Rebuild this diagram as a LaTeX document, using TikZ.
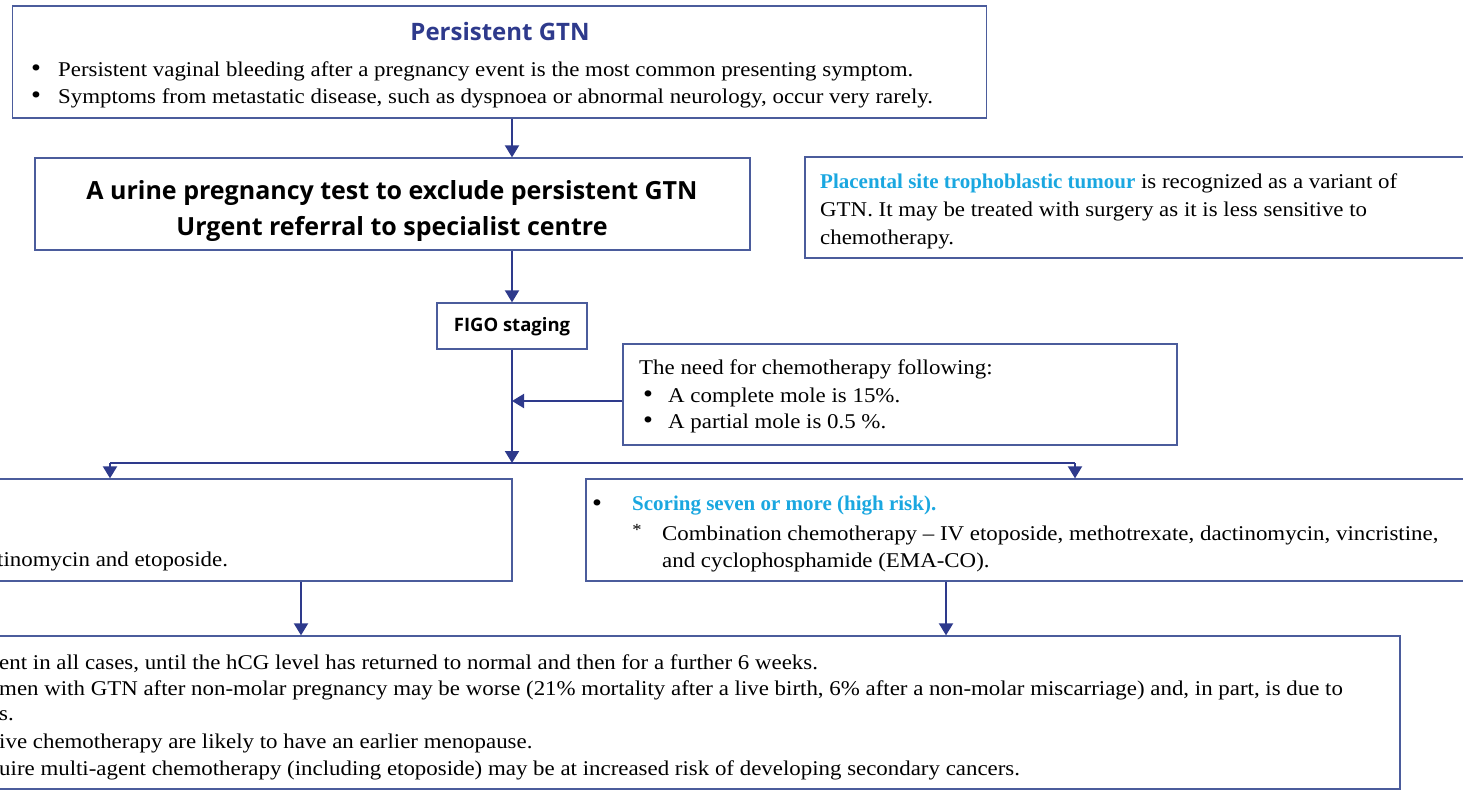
\documentclass[tikz,border=0pt]{standalone}
\usepackage{fontspec}
\setmainfont[FakeStretch=1.09]{Liberation Serif}
\newfontfamily\hlfont{Liberation Serif}
\newfontfamily\hsans{Open Sans}
\usetikzlibrary{arrows.meta}
\definecolor{dblue}{HTML}{2E3A8C}
\definecolor{bblue}{HTML}{4B5C9C}
\definecolor{cyanT}{HTML}{1AA7E0}
\begin{document}
\begin{tikzpicture}[x=1pt,y=-1pt,
  box/.style={draw=bblue, line width=1.3pt, rectangle, inner sep=0pt},
  conn/.style={draw=dblue, line width=2pt},
  arr/.style={conn, -{Triangle[width=14pt,length=12pt]}},
  body/.style={font=\fontsize{21}{25}\selectfont, anchor=west, inner sep=0pt},
  bul/.style={font=\fontsize{26}{28}\selectfont, inner sep=0pt},
  head/.style={font=\hsans\bfseries\fontsize{24}{28}\selectfont, inner sep=0pt},
  hl/.style={font=\hlfont\bfseries\fontsize{21}{25}\selectfont, text=cyanT, inner sep=0pt}]
\useasboundingbox (0,0) rectangle (1463,792);
\clip (0,0) rectangle (1463,792);
% boxes
\node[box, minimum width=974pt, minimum height=112pt] (top) at (499.5,62) {};
\node[box, minimum width=715pt, minimum height=92pt] (urine) at (392.5,204) {};
\node[box, minimum width=680pt, minimum height=101pt] (pstt) at (1145,207.5) {};
\node[box, minimum width=150pt, minimum height=46pt] (figo) at (512,326) {};
\node[box, minimum width=554pt, minimum height=101pt] (note) at (900,394.5) {};
\node[box, minimum width=712pt, minimum height=102pt] (low) at (156,530) {};
\node[box, minimum width=900pt, minimum height=102pt] (high) at (1036,530) {};
\node[box, minimum width=1600pt, minimum height=153pt] (fu) at (600,712.5) {};
% top text
\node[head, text=dblue] (t1) at (500,32) {Persistent GTN};
\node[bul] (t2b) at (36,71) {•};
\node[body] (t2) at (58,71) {Persistent vaginal bleeding after a pregnancy event is the most common presenting symptom.};
\node[bul] (t3b) at (36,98) {•};
\node[body] (t3) at (58,98) {Symptoms from metastatic disease, such as dyspnoea or abnormal neurology, occur very rarely.};
% urine text
\node[head, align=center, font=\hsans\bfseries\fontsize{25}{36}\selectfont] (u1) at (392,211) {A urine pregnancy test to exclude persistent GTN\\Urgent referral to specialist centre};
% pstt
\node[body] (p1) at (820,183) {{\hlfont\bfseries\color{cyanT}Placental site trophoblastic tumour} is recognized as a variant of};
\node[body] (p2) at (820,211) {GTN. It may be treated with surgery as it is less sensitive to};
\node[body] (p3) at (820,239) {chemotherapy.};
% figo
\node[head, font=\hsans\bfseries\fontsize{18.5}{20}\selectfont] (f1) at (512,327) {FIGO staging};
% note
\node[body] (n1) at (639,369) {The need for chemotherapy following:};
\node[bul] (n2b) at (648,397) {•};
\node[body] (n2) at (668,397) {A complete mole is 15\%.};
\node[bul] (n3b) at (648,423) {•};
\node[body] (n3) at (668,423) {A partial mole is 0.5 \%.};
% low
\node[body] (l1) at (-3,561) {tinomycin and etoposide.};
% high
\node[bul] (h1b) at (597,506) {•};
\node[hl, anchor=west] (h1) at (632,506) {Scoring seven or more (high risk).};
\node[inner sep=0pt, font=\fontsize{17}{19}\selectfont] (h2b) at (637,530) {*};
\node[body] (h2) at (662,535) {Combination chemotherapy – IV etoposide, methotrexate, dactinomycin, vincristine,};
\node[body] (h3) at (662,562) {and cyclophosphamide (EMA-CO).};
% follow-up
\node[body] (b1) at (-1,664) {ent in all cases, until the hCG level has returned to normal and then for a further 6 weeks.};
\node[body] (b2) at (-1,690) {men with GTN after non-molar pregnancy may be worse (21\% mortality after a live birth, 6\% after a non-molar miscarriage) and, in part, is due to};
\node[body] (b3) at (-1,716) {s.};
\node[body] (b4) at (-1,743) {ive chemotherapy are likely to have an earlier menopause.};
\node[body] (b5) at (-1,770) {uire multi-agent chemotherapy (including etoposide) may be at increased risk of developing secondary cancers.};
% connectors
\coordinate (split) at (512,463);
\coordinate (sl) at (110,463);
\coordinate (sr) at (1075,463);
\draw[arr] (top.south -| figo.north) -- (urine.north -| figo.north);
\draw[arr] (urine.south -| figo.north) -- (figo.north);
\draw[arr] (figo.south) -- (split);
\draw[arr] ([yshift=-6.5pt]note.west) -- ([yshift=-6.5pt]note.west -| figo.south);
\draw[conn] (sl) -- (sr);
\draw[arr] (sl) -- (sl |- low.north);
\draw[arr] (sr) -- (sr |- high.north);
\coordinate (lx) at (301,0);
\coordinate (rx) at (946,0);
\draw[arr] (low.south -| lx) -- (fu.north -| lx);
\draw[arr] (high.south -| rx) -- (fu.north -| rx);
\end{tikzpicture}
\end{document}
